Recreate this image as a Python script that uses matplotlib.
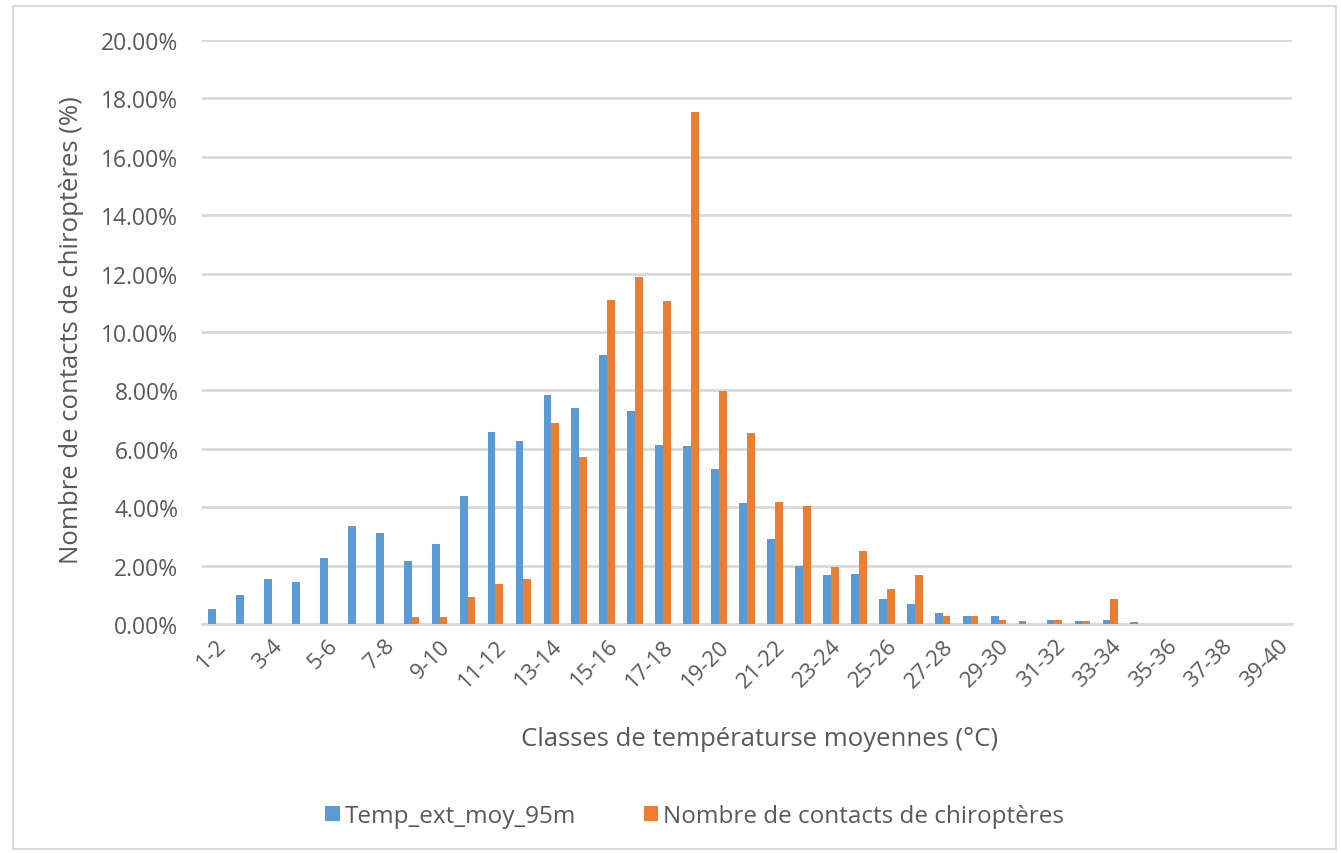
import numpy as np
import matplotlib.pyplot as plt
from matplotlib.patches import Rectangle
from matplotlib.ticker import FuncFormatter

plt.rcParams['font.family'] = ['Open Sans', 'DejaVu Sans']

# temperature classes 1-2 ... 39-40
classes = [f'{i}-{i + 1}' for i in range(1, 40)]

# % of hours per class (Temp_ext_moy_95m)
temp_ext = [0.53, 1.01, 1.53, 1.45, 2.27, 3.34, 3.13, 2.16, 2.75, 4.39,
            6.57, 6.26, 7.83, 7.39, 9.21, 7.28, 6.12, 6.09, 5.30, 4.16,
            2.92, 1.99, 1.67, 1.71, 0.85, 0.70, 0.36, 0.29, 0.26, 0.11,
            0.15, 0.11, 0.15, 0.07, 0.0, 0.0, 0.0, 0.0, 0.0]

# % of bat contacts per class
contacts = [0.0, 0.0, 0.0, 0.0, 0.0, 0.0, 0.0, 0.24, 0.24, 0.94,
            1.38, 1.54, 6.87, 5.72, 11.08, 11.88, 11.05, 17.54, 7.99, 6.53,
            4.19, 4.05, 1.94, 2.50, 1.20, 1.67, 0.29, 0.29, 0.14, 0.0,
            0.15, 0.11, 0.87, 0.0, 0.0, 0.0, 0.0, 0.0, 0.0]

blue = '#5B9BD5'
orange = '#ED7D31'
grid_col = '#D9D9D9'
txt_col = '#595959'

W, H = 1341, 854
fig = plt.figure(figsize=(W / 100, H / 100), dpi=100)
ax = fig.add_axes([202 / W, 1 - 625 / H, 1090 / W, 584 / H])

x = np.arange(len(classes))
w = 0.28
ax.bar(x - w / 2, temp_ext, width=w, color=blue, label='Temp_ext_moy_95m', zorder=3)
ax.bar(x + w / 2, contacts, width=w, color=orange,
       label='Nombre de contacts de chiroptères', zorder=3)

ax.set_xlim(-0.5, len(classes) - 0.5)
ax.set_ylim(0, 20)
ax.set_yticks(np.arange(0, 21, 2))
ax.yaxis.set_major_formatter(FuncFormatter(lambda v, p: f'{v:.2f}%'))
ax.grid(axis='y', color=grid_col, linewidth=2, zorder=0)

ax.set_xticks(x[::2])
ax.set_xticklabels(classes[::2], rotation=45, ha='right', va='top',
                   rotation_mode='anchor')

for s in ['top', 'right', 'left']:
    ax.spines[s].set_visible(False)
ax.spines['bottom'].set_color(grid_col)
ax.spines['bottom'].set_linewidth(2)
ax.tick_params(axis='y', length=0, labelsize=16.5, colors=txt_col, pad=17)
ax.tick_params(axis='x', length=0, labelsize=16, colors=txt_col, pad=8)

fig.text(760 / W, 1 - 740 / H, 'Classes de températurse moyennes (°C)',
         fontsize=18.5, color=txt_col, ha='center', va='center')
fig.text(72 / W, 1 - 330 / H, 'Nombre de contacts de chiroptères (%)',
         fontsize=18.5, color=txt_col, ha='center', va='center', rotation=90)

ax.legend(loc='center', bbox_to_anchor=(0.452, -0.329), ncol=2, frameon=False,
          fontsize=17.5, labelcolor=txt_col, handlelength=0.6,
          handleheight=0.6, columnspacing=2.8, handletextpad=0.2)

fig.patches.append(Rectangle((13 / W, 4 / H), 1323 / W, 843 / H,
                             transform=fig.transFigure, fill=False,
                             edgecolor=grid_col, linewidth=1.5))

fig.savefig('out.png', dpi=100)
